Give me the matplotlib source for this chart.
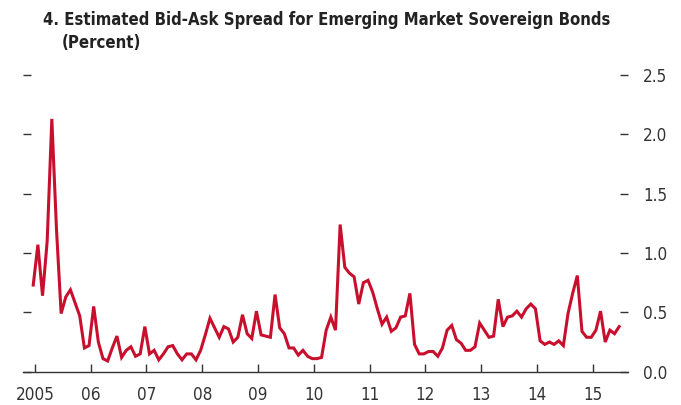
import matplotlib
matplotlib.use("Agg")
import matplotlib.pyplot as plt
from matplotlib import font_manager
from matplotlib.font_manager import FontProperties
import numpy as np

# monthly spread, Jan 2005 - Jul 2015 (percent)
spread = [
    0.73, 1.07, 0.64, 1.10, 2.13, 1.20, 0.49, 0.63, 0.69, 0.58, 0.47, 0.20,  # 2005
    0.22, 0.55, 0.25, 0.11, 0.09, 0.20, 0.30, 0.12, 0.18, 0.21, 0.13, 0.15,  # 2006
    0.38, 0.15, 0.18, 0.10, 0.15, 0.21, 0.22, 0.15, 0.10, 0.15, 0.15, 0.10,  # 2007
    0.18, 0.31, 0.45, 0.37, 0.29, 0.38, 0.36, 0.25, 0.29, 0.48, 0.32, 0.28,  # 2008
    0.51, 0.31, 0.30, 0.29, 0.65, 0.37, 0.32, 0.20, 0.20, 0.14, 0.18, 0.13,  # 2009
    0.11, 0.11, 0.12, 0.35, 0.46, 0.35, 1.24, 0.88, 0.83, 0.80, 0.57, 0.75,  # 2010
    0.77, 0.67, 0.53, 0.40, 0.46, 0.34, 0.37, 0.46, 0.47, 0.66, 0.23, 0.15,  # 2011
    0.15, 0.17, 0.17, 0.13, 0.20, 0.35, 0.39, 0.27, 0.24, 0.18, 0.18, 0.21,  # 2012
    0.41, 0.35, 0.29, 0.30, 0.61, 0.38, 0.46, 0.47, 0.51, 0.46, 0.53, 0.57,  # 2013
    0.53, 0.26, 0.23, 0.25, 0.23, 0.26, 0.22, 0.49, 0.66, 0.81, 0.34, 0.29,  # 2014
    0.29, 0.35, 0.51, 0.25, 0.35, 0.32, 0.38,                                # 2015
]
year_labels = ["2005", "06", "07", "08", "09", "10", "11", "12", "13", "14", "15"]
y_ticks = [0.0, 0.5, 1.0, 1.5, 2.0, 2.5]
title = "4. Estimated Bid-Ask Spread for Emerging Market Sovereign Bonds"
subtitle = "(Percent)"


def pick_font(weight):
    # look for a narrow upright face first, the original uses a condensed type
    narrow = []
    for f in font_manager.fontManager.ttflist:
        name = f.name + " " + str(f.fname)
        if f.style != "normal" or "Italic" in name:
            continue
        is_narrow = (f.stretch in ("condensed", "semi-condensed")
                     or "Narrow" in name or "SemiCondensed" in name
                     or ("Condensed" in name and "Extra" not in name))
        if weight == "bold":
            w_ok = f.weight in ("bold", 700) or "Bold" in name and "Semi" not in name \
                and "Extra" not in name
        else:
            w_ok = f.weight in ("normal", 400, "regular", "book") and "Bold" not in name \
                and "Light" not in name and "Medium" not in name
        if is_narrow and w_ok:
            narrow.append(f.fname)
    if narrow:
        return FontProperties(fname=sorted(narrow)[0])
    return FontProperties(family="Liberation Sans", weight=weight)


bold_fp = pick_font("bold")
reg_fp = pick_font("normal")

fig = plt.figure(figsize=(6.81, 4.05), dpi=100)
renderer = fig.canvas.get_renderer()


def fit_size(text, fp, target_px):
    t = fig.text(0, 0, text, fontproperties=fp, fontsize=10)
    w = t.get_window_extent(renderer).width
    t.remove()
    return 10 * target_px / w


tsize = fit_size(title, bold_fp, 565)
lsize = fit_size("2005", reg_fp, 39)

ax = fig.add_axes([23 / 681, 33.3 / 405, 605 / 681, 296.7 / 405])

months = np.arange(len(spread))
ax.plot(months, spread, color="#c8102e", lw=2.2, solid_joinstyle="miter")

ax.set_xlim(-2.2, 127.9)
ax.set_ylim(0, 2.5)

ax.set_xticks([0.35 + 12 * k for k in range(len(year_labels))])
ax.set_xticklabels(year_labels)
ax.set_yticks(y_ticks)
ax.set_yticklabels([f"{v:.1f}" for v in y_ticks])

for s in ["top", "left", "right"]:
    ax.spines[s].set_visible(False)
ax.spines["bottom"].set_color("#333333")
ax.spines["bottom"].set_linewidth(1.0)

ax.tick_params(axis="x", direction="in", length=6, width=1, color="#333333",
               labelcolor="#333333", pad=10)
ax.tick_params(axis="y", direction="in", length=5.5, width=1, color="#333333",
               left=True, right=True, labelleft=False, labelright=True,
               labelcolor="#333333", pad=11)
for lab in ax.get_xticklabels() + ax.get_yticklabels():
    lab.set_fontproperties(reg_fp)
    lab.set_fontsize(lsize)

fig.text(43 / 681, 1 - 11 / 405, title, fontproperties=bold_fp,
         fontsize=tsize, color="#222222", va="top", ha="left")
fig.text(62 / 681, 1 - 34 / 405, subtitle, fontproperties=bold_fp,
         fontsize=tsize, color="#222222", va="top", ha="left")

fig.savefig("out.png", dpi=100)
